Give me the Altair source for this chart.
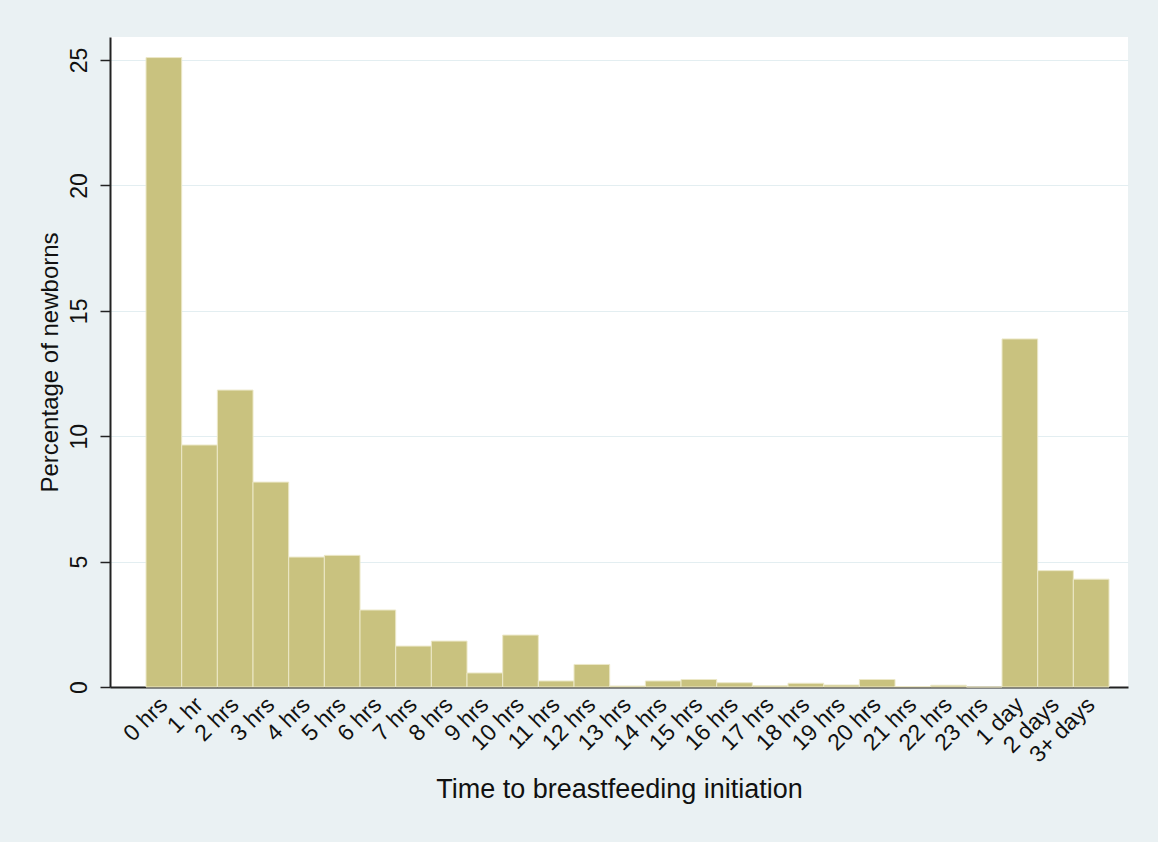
import altair as alt
import pandas as pd

categories = ["0 hrs", "1 hr"] + [f"{i} hrs" for i in range(2, 24)] + ["1 day", "2 days", "3+ days"]
percent = [25.1, 9.65, 11.84, 8.17, 5.18, 5.25, 3.07, 1.63, 1.83, 0.56,
           2.07, 0.24, 0.9, 0.04, 0.24, 0.3, 0.17, 0.05, 0.15, 0.08,
           0.3, 0.02, 0.07, 0.0, 13.88, 4.64, 4.3]
y_ticks = [0, 5, 10, 15, 20, 25]

df = pd.DataFrame({"cat": categories, "pct": percent})

FONT = "Liberation Sans"

chart = alt.Chart(df).mark_bar(
    color="#C9C27F", stroke="#ECE8C8", strokeWidth=1
).encode(
    x=alt.X("cat:N", sort=categories,
            scale=alt.Scale(paddingInner=0, paddingOuter=0.771, align=0.655),
            axis=alt.Axis(title="Time to breastfeeding initiation", labelAngle=-45,
                          labelAlign="right", labelBaseline="middle",
                          ticks=False, labelPadding=14, labelFontSize=23,
                          titleFontSize=27, titlePadding=10, labelColor="#111",
                          titleColor="#111", domainColor="#222", domainWidth=2,
                          grid=False, labelFont=FONT, titleFont=FONT,
                          titleFontWeight="normal", labelOverlap=False)),
    y=alt.Y("pct:Q", scale=alt.Scale(domain=[0, 25.92], nice=False, zero=True),
            axis=alt.Axis(title="Percentage of newborns", values=y_ticks,
                          labelAngle=270, labelAlign="center", labelBaseline="bottom",
                          tickSize=10, tickColor="#222", tickWidth=1.5,
                          labelPadding=9, labelFontSize=23, titleFontSize=24,
                          titlePadding=6, labelColor="#111", titleColor="#111",
                          domainColor="#222", domainWidth=2,
                          gridColor="#E3EEF1", gridWidth=1.2,
                          labelFont=FONT, titleFont=FONT, titleFontWeight="normal")),
).properties(
    width=1018, height=650,
    background="#EAF1F3",
    padding={"left": 110, "top": 37, "right": 30, "bottom": 155},
    autosize=alt.AutoSizeParams(type="none"),
).configure_view(
    fill="white", stroke=None
)

chart.save("out.html", embed_options={"renderer": "svg", "actions": False})
